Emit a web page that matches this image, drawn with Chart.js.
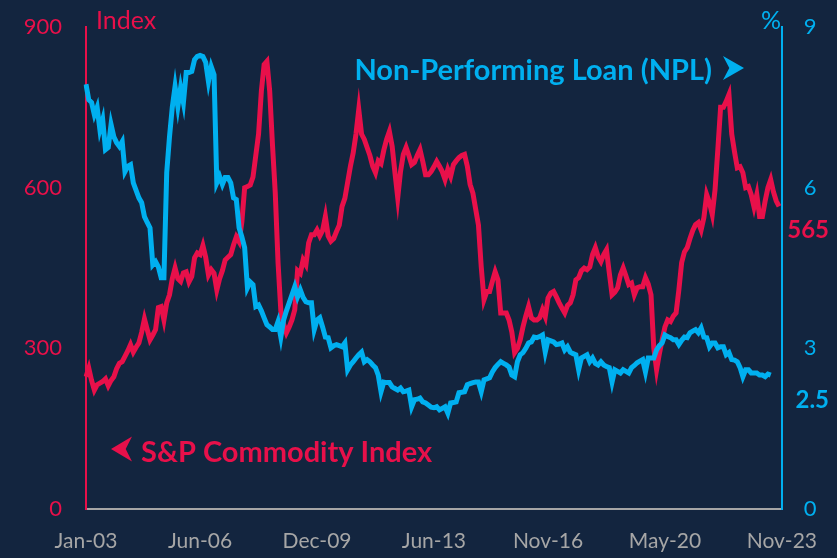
<!DOCTYPE html>
<html lang="en">
<head>
    <meta charset="UTF-8">
    <title>Commodity Index vs NPL</title>
    <style>
        body {
            margin: 0;
            background-color: #13253f;
        }
        canvas {
            display: block;
        }
    </style>
    <script src="https://cdn.jsdelivr.net/npm/chart.js"></script>
</head>
<body>
    <canvas id="chart" width="837" height="558"></canvas>

    <script>
        // S&P commodity index, monthly Jan-03 .. Nov-23 (last month not reported)
        const commodityIndex = [
            247, 263, 240, 222, 232, 235, 238, 243, 230, 240,
            247, 262, 272, 275, 285, 295, 307, 293, 302, 310,
            330, 355, 335, 316, 325, 335, 376, 378, 353, 385,
            400, 430, 450, 430, 425, 441, 443, 424, 434, 469,
            478, 475, 492, 470, 437, 447, 440, 409, 430, 445,
            465, 470, 475, 493, 508, 499, 536, 600, 602, 605,
            620, 660, 700, 780, 830, 836, 780, 680, 590, 460,
            370, 345, 329, 340, 353, 372, 445, 440, 465, 456,
            497, 512, 512, 521, 510, 520, 546, 510, 500, 505,
            518, 530, 565, 580, 610, 640, 665, 700, 746, 700,
            690, 675, 660, 640, 628, 650, 645, 670, 690, 705,
            677, 628, 581, 630, 662, 675, 660, 643, 647, 660,
            671, 649, 624, 624, 630, 639, 649, 640, 630, 615,
            634, 621, 643, 650, 656, 660, 662, 640, 606, 590,
            560, 530, 452, 391, 406, 406, 425, 443, 428, 366,
            366, 366, 353, 330, 292, 300, 316, 340, 360, 378,
            357, 353, 353, 357, 372, 359, 394, 403, 406, 396,
            385, 375, 366, 380, 385, 400, 428, 432, 445, 450,
            447, 452, 475, 488, 471, 462, 475, 484, 441, 400,
            405, 413, 437, 450, 435, 419, 422, 400, 413, 415,
            415, 432, 420, 400, 300, 260, 290, 316, 340, 353,
            350, 360, 366, 409, 460, 480, 488, 505, 520, 531,
            535, 521, 544, 587, 572, 550, 596, 671, 750, 750,
            761, 774, 700, 667, 637, 639, 628, 600, 602, 587,
            564, 587, 546, 546, 575, 600, 615, 592, 575, 565,
            null
        ];

        // Non-performing loan ratio (%), same months, ends Jul-23
        const nplRatio = [
            7.93, 7.64, 7.59, 7.36, 7.50, 7.08, 7.27, 6.71, 6.75, 7.18,
            6.95, 6.84, 6.77, 6.86, 6.30, 6.40, 6.43, 6.09, 5.95, 5.81,
            5.72, 5.46, 5.35, 5.25, 4.56, 4.62, 4.52, 4.32, 4.32, 6.28,
            6.95, 7.50, 7.89, 7.51, 7.87, 7.59, 8.15, 8.15, 8.17, 8.39,
            8.45, 8.47, 8.45, 8.34, 7.98, 8.26, 8.11, 6.09, 6.21, 6.06,
            6.19, 6.19, 6.09, 5.81, 5.78, 5.25, 5.08, 4.88, 4.13, 4.24,
            4.19, 3.78, 3.81, 3.70, 3.57, 3.44, 3.40, 3.35, 3.35, 3.50,
            3.21, 3.53, 3.70, 3.85, 4.00, 4.15, 3.96, 4.09, 3.95, 3.87,
            3.85, 3.85, 3.35, 3.53, 3.57, 3.40, 3.21, 3.20, 3.01, 3.05,
            3.07, 3.05, 3.03, 3.10, 2.60, 2.69, 2.75, 2.82, 2.88, 2.93,
            2.75, 2.79, 2.75, 2.69, 2.64, 2.50, 2.19, 2.37, 2.36, 2.36,
            2.28, 2.25, 2.22, 2.26, 2.19, 2.20, 2.22, 1.91, 2.04, 2.05,
            2.07, 2.00, 1.98, 1.94, 1.90, 1.89, 1.91, 1.85, 1.88, 1.91,
            1.79, 1.98, 1.99, 2.00, 2.17, 2.18, 2.19, 2.32, 2.34, 2.36,
            2.37, 2.37, 2.19, 2.41, 2.43, 2.45, 2.56, 2.64, 2.70, 2.75,
            2.72, 2.69, 2.65, 2.50, 2.47, 2.75, 2.88, 2.92, 3.00, 3.10,
            3.12, 3.21, 3.20, 3.22, 3.25, 2.93, 3.16, 3.14, 3.12, 3.07,
            3.08, 3.10, 2.97, 3.03, 2.93, 2.90, 2.88, 2.60, 2.82, 2.85,
            2.88, 2.75, 2.82, 2.72, 2.69, 2.75, 2.69, 2.66, 2.64, 2.37,
            2.60, 2.57, 2.54, 2.60, 2.57, 2.54, 2.64, 2.68, 2.73, 2.76,
            2.79, 2.56, 2.82, 2.82, 2.82, 2.97, 3.05, 3.10, 3.25, 3.22,
            3.20, 3.16, 3.16, 3.07, 3.15, 3.21, 3.20, 3.29, 3.32, 3.35,
            3.29, 3.38, 3.21, 3.20, 3.03, 3.10, 3.10, 3.01, 3.03, 3.03,
            2.88, 2.92, 2.79, 2.78, 2.75, 2.64, 2.47, 2.60, 2.60, 2.54,
            2.54, 2.54, 2.50, 2.50, 2.47, 2.52, 2.50, null, null, null,
            null
        ];

        const shownTicks = ['Jan-03', 'Jun-06', 'Dec-09', 'Jun-13', 'Nov-16', 'May-20', 'Nov-23'];
        const indexTicks = [0, 300, 600, 900];
        const nplTicks = [0, 3, 6, 9];

        const RED = '#e8104a';
        const BLUE = '#00b0f0';
        const GREY = '#a6a6a6';
        const FONT = 'Lato, "Open Sans", sans-serif';

        const monthNames = ['Jan', 'Feb', 'Mar', 'Apr', 'May', 'Jun', 'Jul', 'Aug', 'Sep', 'Oct', 'Nov', 'Dec'];
        const months = commodityIndex.map((v, i) => {
            const yr = 3 + Math.floor(i / 12);
            return monthNames[i % 12] + '-' + String(yr).padStart(2, '0');
        });

        function lastValue(arr) {
            for (let i = arr.length - 1; i >= 0; i--) {
                if (arr[i] !== null) return arr[i];
            }
            return null;
        }

        function arrowHead(ctx, tipX, cy, dir, w, h, color) {
            ctx.fillStyle = color;
            ctx.beginPath();
            ctx.moveTo(tipX, cy);
            ctx.lineTo(tipX - dir * w, cy - h / 2);
            ctx.lineTo(tipX - dir * w * 0.7, cy);
            ctx.lineTo(tipX - dir * w, cy + h / 2);
            ctx.closePath();
            ctx.fill();
        }

        // y axes: fixed width, no extra room above/below for the tick labels
        function fitY(width) {
            return (scale) => {
                scale.width = width;
                scale.paddingTop = 0;
                scale.paddingBottom = 0;
            };
        }

        const labelsPlugin = {
            id: 'labels',
            afterDraw(chart) {
                const ctx = chart.ctx;
                const yL = chart.scales.yIndex;
                const yR = chart.scales.yNpl;
                ctx.save();

                ctx.font = '25px ' + FONT;
                ctx.textBaseline = 'alphabetic';
                ctx.fillStyle = RED;
                ctx.textAlign = 'left';
                ctx.fillText('Index', 96, 29);
                ctx.fillStyle = BLUE;
                ctx.textAlign = 'right';
                ctx.fillText('%', 781, 29);

                ctx.font = 'bold 29px ' + FONT;
                ctx.fillStyle = BLUE;
                ctx.textAlign = 'right';
                ctx.fillText('Non-Performing Loan (NPL)', 712, 80);
                arrowHead(ctx, 744, 68, 1, 21, 24, BLUE);

                ctx.fillStyle = RED;
                ctx.textAlign = 'left';
                ctx.fillText('S&P Commodity Index', 141, 462);
                arrowHead(ctx, 111, 449, -1, 21, 25, RED);

                // last values beside the right axis
                const lastIdx = lastValue(commodityIndex);
                const lastNpl = lastValue(nplRatio);
                ctx.font = 'bold 24px ' + FONT;
                ctx.textAlign = 'right';
                ctx.textBaseline = 'middle';
                ctx.fillStyle = RED;
                ctx.fillText(String(lastIdx), 829, yL.getPixelForValue(lastIdx) + 24);
                ctx.fillStyle = BLUE;
                ctx.fillText(String(lastNpl), 829, yR.getPixelForValue(lastNpl) + 25);

                ctx.restore();
            }
        };

        new Chart(document.getElementById('chart').getContext('2d'), {
            type: 'line',
            data: {
                labels: months,
                datasets: [{
                    label: 'Non-Performing Loan (NPL)',
                    data: nplRatio,
                    yAxisID: 'yNpl',
                    borderColor: BLUE,
                    borderWidth: 5,
                    pointRadius: 0,
                    tension: 0,
                    order: 0
                }, {
                    label: 'S&P Commodity Index',
                    data: commodityIndex,
                    yAxisID: 'yIndex',
                    borderColor: RED,
                    borderWidth: 5,
                    pointRadius: 0,
                    tension: 0,
                    order: 1
                }]
            },
            options: {
                responsive: false,
                animation: false,
                devicePixelRatio: 1,
                layout: { padding: { top: 27, left: 0, right: 0, bottom: 0 } },
                plugins: {
                    legend: { display: false },
                    tooltip: { enabled: false }
                },
                scales: {
                    x: {
                        offset: false,
                        grid: { display: false, drawTicks: false },
                        border: { display: true, color: GREY, width: 2 },
                        ticks: {
                            autoSkip: false,
                            maxRotation: 0,
                            padding: 20,
                            color: GREY,
                            font: { family: FONT, size: 21 },
                            callback: function(value) {
                                const lab = this.getLabelForValue(value);
                                return shownTicks.includes(lab) ? lab : null;
                            }
                        },
                        afterFit: (scale) => { scale.height = 49; }
                    },
                    yIndex: {
                        position: 'left',
                        min: 0,
                        max: 900,
                        afterBuildTicks: (scale) => { scale.ticks = indexTicks.map(v => ({ value: v })); },
                        grid: { display: false, drawTicks: false },
                        border: { display: true, color: RED, width: 2 },
                        ticks: {
                            padding: 24,
                            color: RED,
                            font: { family: FONT, size: 22 }
                        },
                        afterFit: fitY(86)
                    },
                    yNpl: {
                        position: 'right',
                        min: 0,
                        max: 9,
                        afterBuildTicks: (scale) => { scale.ticks = nplTicks.map(v => ({ value: v })); },
                        grid: { display: false, drawTicks: false },
                        border: { display: true, color: BLUE, width: 2 },
                        ticks: {
                            padding: 22,
                            color: BLUE,
                            font: { family: FONT, size: 22 }
                        },
                        afterFit: fitY(50)
                    }
                }
            },
            plugins: [labelsPlugin]
        });
    </script>
</body>
</html>
